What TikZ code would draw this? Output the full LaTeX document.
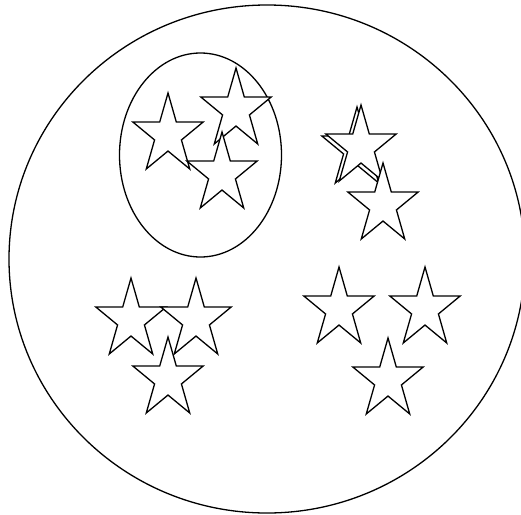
\documentclass[tikz,border=0pt]{standalone}
\begin{document}
\begin{tikzpicture}[x=1pt,y=1pt,
  outline/.style={draw=black,line width=1.3pt},
  starline/.style={outline,fill=white,line join=miter},
  pics/fivestar/.style={code={
    \path[starline,xscale=0.88] (90:42) -- (126:16.04) -- (162:42) -- (198:16.04)
      -- (234:42) -- (270:16.04) -- (306:42) -- (342:16.04) -- (18:42) -- (54:16.04) -- cycle;
  }}]
\fill[white] (0,0) rectangle (521,-514);
\begin{scope}
\clip (0,0) rectangle (521,-514);
% outer circle
\draw[outline] (267,-259) ellipse [x radius=258, y radius=254];
\end{scope}
% inner ellipse
\draw[outline] (200.5,-155) ellipse [x radius=81, y radius=102];
% group in ellipse
\pic (s1) at (168,-135) {fivestar};
\pic (s2) at (236,-110) {fivestar};
\pic (s3) at (222,-174) {fivestar};
% upper right group
\pic (s4) at (357,-149) {fivestar};
\pic (s5) at (361,-147) {fivestar};
\pic (s6) at (383,-205) {fivestar};
% lower left group
\pic (s7) at (131,-320) {fivestar};
\pic (s8) at (196,-320) {fivestar};
\pic (s9) at (168,-379) {fivestar};
% lower right group
\pic (s10) at (339,-309) {fivestar};
\pic (s11) at (425,-309) {fivestar};
\pic (s12) at (388,-380) {fivestar};
\useasboundingbox (0,0) rectangle (521,-514);
\end{tikzpicture}
\end{document}
